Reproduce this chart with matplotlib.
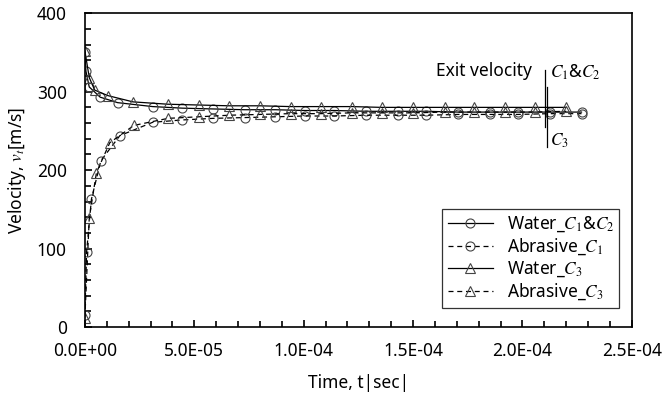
import matplotlib
matplotlib.use('Agg')
import matplotlib.pyplot as plt
import numpy as np
from matplotlib.ticker import MultipleLocator, FuncFormatter

plt.rcParams['font.family'] = ['Noto Sans', 'DejaVu Sans']
plt.rcParams['mathtext.fontset'] = 'stix'

# time stamps [s] and velocities [m/s]
t_c1 = np.array([0, 0.5, 2, 7, 15, 31, 44.6, 58.5, 73, 87, 100.5, 114, 128.7,
                 143, 156, 170.6, 185, 198, 212.5, 227]) * 1e-6
water_c12 = [350, 326, 306, 293, 286, 281, 279, 278, 277, 277, 276, 276, 275,
             275, 275, 274, 274, 274, 274, 274]
t_a1 = np.array([0, 0.8, 3, 7.3, 16, 31, 44.6, 58.5, 73, 87, 100.5, 114, 128.7,
                 143, 156, 170.6, 185, 198, 212.5, 227]) * 1e-6
abrasive_c1 = [15, 96, 163, 212, 244, 261, 264, 266, 267, 268, 269, 269, 270,
               270, 270, 271, 271, 271, 272, 272]

t_c3 = np.array([0, 2, 4.5, 10.5, 22, 38, 52, 66, 80, 94, 107.7, 122, 135.6,
                 150, 164.5, 178, 192, 205.6, 220]) * 1e-6
water_c3 = [352, 318, 302, 295, 287, 284, 283, 282, 282, 281, 281, 281, 280,
            280, 280, 280, 280, 280, 280]
t_a3 = np.array([0, 2, 5.3, 11.4, 22.4, 38, 52, 66, 80, 94, 107.7, 122, 135.6,
                 150, 164.5, 178, 192, 205.6, 220]) * 1e-6
abrasive_c3 = [12, 139, 197, 235, 257, 266, 268, 270, 271, 272, 272, 273, 273,
               273, 274, 274, 274, 274, 275]

fig = plt.figure(figsize=(6.63, 3.99), dpi=100)
ax = fig.add_axes([0.128, 0.18, 0.825, 0.787])

mk = dict(markerfacecolor='none', markeredgecolor='#444444', markersize=6.5,
          markeredgewidth=0.8)
ax.plot(t_c1, water_c12, '-', color='black', lw=0.9, marker='o',
        label='Water_$C_1$&$C_2$', **mk)
ax.plot(t_a1, abrasive_c1, '--', color='black', lw=0.9, marker='o',
        dashes=(4, 3), label='Abrasive_$C_1$', **mk)
ax.plot(t_c3, water_c3, '-', color='black', lw=0.9, marker='^',
        label='Water_$C_3$', **mk)
ax.plot(t_a3, abrasive_c3, '--', color='black', lw=0.9, marker='^',
        dashes=(4, 3), label='Abrasive_$C_3$', **mk)

# exit velocity markers
ax.plot([2.102e-4, 2.102e-4], [328, 255], color='black', lw=0.9)
ax.plot([2.110e-4, 2.110e-4], [306, 230], color='black', lw=0.9)
ax.text(2.043e-4, 326, 'Exit velocity', ha='right', va='center', fontsize=12.5)
ax.text(2.125e-4, 325, '$C_1$&$C_2$', ha='left', va='center', fontsize=12.5)
ax.text(2.125e-4, 237, '$C_3$', ha='left', va='center', fontsize=12.5)

ax.set_xlim(0, 2.5e-4)
ax.set_ylim(0, 400)
ax.xaxis.set_major_locator(MultipleLocator(5e-5))
ax.xaxis.set_minor_locator(MultipleLocator(1e-5))
ax.yaxis.set_major_locator(MultipleLocator(100))
ax.yaxis.set_minor_locator(MultipleLocator(20))
ax.xaxis.set_major_formatter(FuncFormatter(lambda v, p: '%.1E' % v))
ax.tick_params(which='both', direction='in', labelsize=12.5, width=1.2)
ax.tick_params(which='major', length=5)
ax.tick_params(axis='x', which='major', pad=11)
ax.tick_params(axis='y', which='major', pad=13)
ax.tick_params(which='minor', length=4)
for s in ax.spines.values():
    s.set_linewidth(1.2)

ax.set_xlabel('Time, t|sec|', fontsize=12.5, labelpad=10)
ax.set_ylabel('Velocity, $v_t$[m/s]', fontsize=12.5, labelpad=6)

leg = ax.legend(loc='lower right', fontsize=12.5, frameon=True, fancybox=False,
                edgecolor='black', handlelength=2.6, borderpad=0.3,
                labelspacing=0.15, bbox_to_anchor=(0.993, 0.035))
leg.get_frame().set_linewidth(0.9)

fig.savefig('out.png', dpi=100)
